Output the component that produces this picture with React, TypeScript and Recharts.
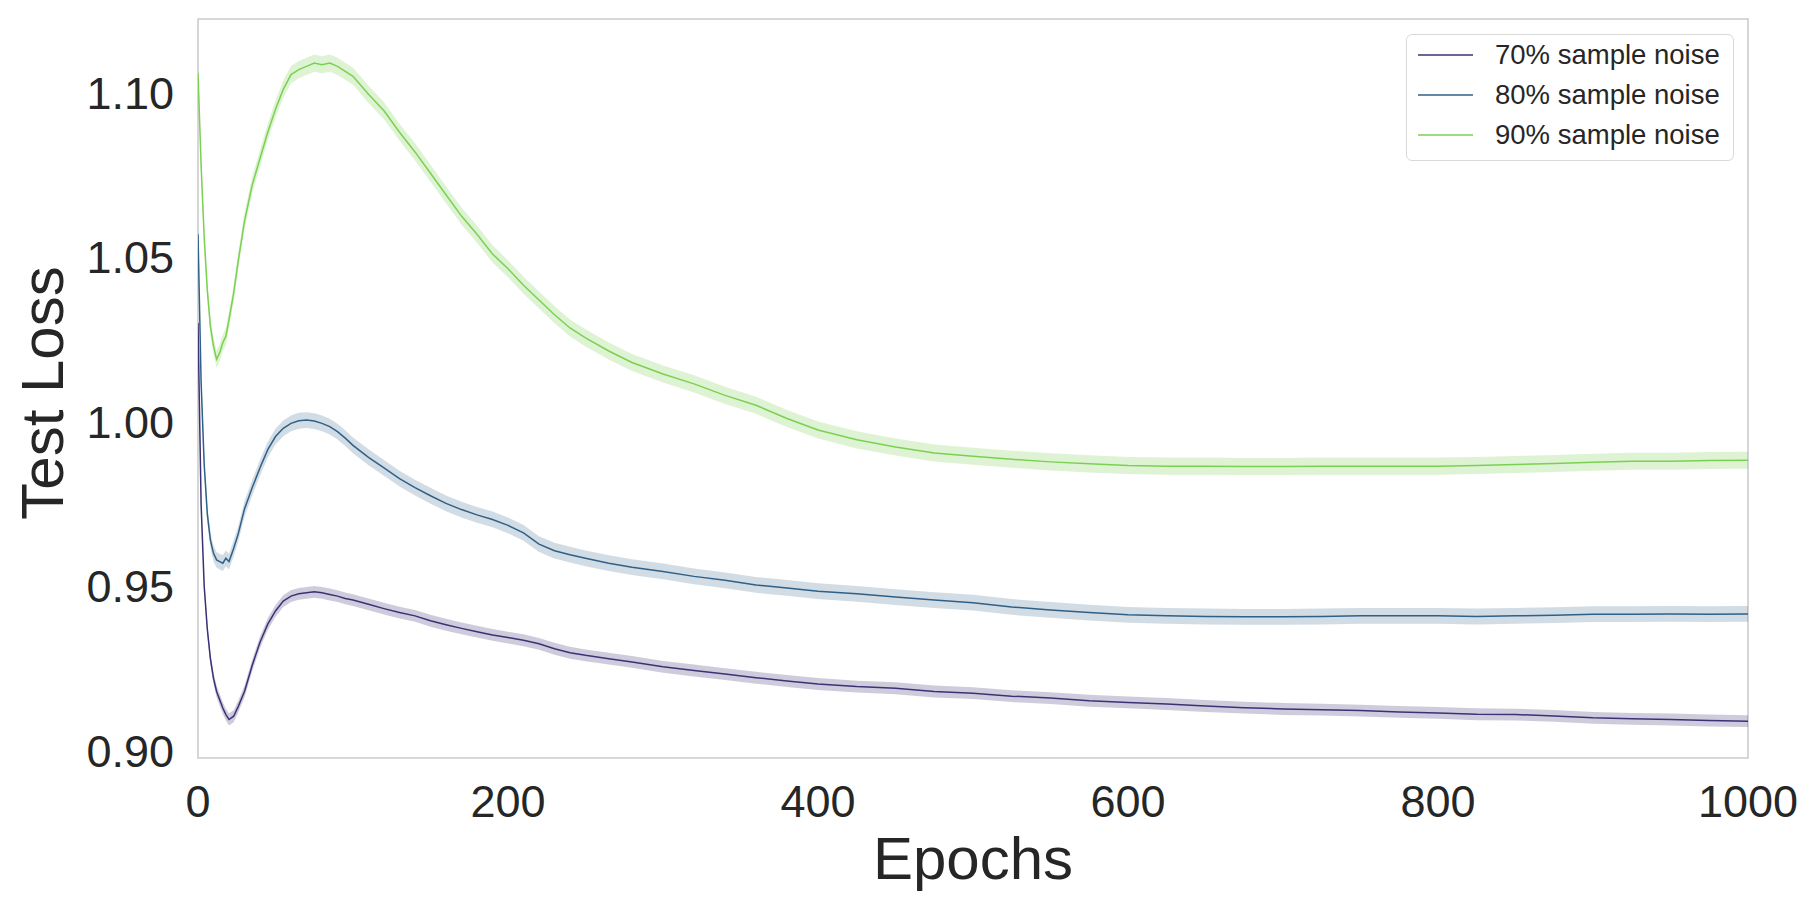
import React from "react";
import {
  ComposedChart,
  Line,
  Area,
  XAxis,
  YAxis,
  ReferenceArea,
  Label,
} from "recharts";

const epochs = [0, 2, 4, 6, 8, 10, 12, 14, 16, 18, 20, 23, 26, 30, 35, 40, 45, 50, 55, 60, 65, 70, 75, 80, 85, 90, 95, 100, 110, 120, 130, 140, 150, 160, 170, 180, 190, 200, 210, 220, 230, 240, 250, 265, 280, 300, 320, 340, 360, 380, 400, 425, 450, 475, 500, 525, 550, 575, 600, 625, 650, 675, 700, 725, 750, 775, 800, 825, 850, 875, 900, 925, 950, 975, 1000];

const noise70 = [1.03, 0.975, 0.95, 0.937, 0.928, 0.922, 0.918, 0.9155, 0.913, 0.911, 0.9095, 0.9105, 0.9135, 0.918, 0.926, 0.933, 0.9385, 0.9425, 0.9455, 0.947, 0.9477, 0.948, 0.9483, 0.948, 0.9475, 0.947, 0.9463, 0.9458, 0.9445, 0.9432, 0.942, 0.941, 0.9395, 0.9383, 0.9372, 0.9362, 0.9352, 0.9344, 0.9336, 0.9325, 0.931, 0.9298, 0.929, 0.928, 0.927, 0.9255, 0.9244, 0.9233, 0.9222, 0.9212, 0.9203, 0.9195, 0.919, 0.918, 0.9175, 0.9166, 0.916, 0.9152, 0.9147, 0.9142, 0.9136, 0.9131, 0.9127, 0.9125, 0.9122, 0.9118, 0.9115, 0.9111, 0.911, 0.9106, 0.91, 0.9097, 0.9095, 0.9092, 0.909];

const noise80 = [1.057, 1.012, 0.987, 0.972, 0.964, 0.96, 0.958, 0.9575, 0.957, 0.9585, 0.9575, 0.9615, 0.966, 0.9735, 0.98, 0.986, 0.9915, 0.9955, 0.998, 0.9995, 1.0003, 1.0005, 1.0002, 0.9995, 0.9985, 0.997, 0.995, 0.9928, 0.9892, 0.986, 0.9827, 0.98, 0.9775, 0.9752, 0.9733, 0.9717, 0.9703, 0.9685, 0.9662, 0.9628, 0.9608, 0.9596, 0.9585, 0.957, 0.9558, 0.9545, 0.953, 0.9518, 0.9504, 0.9495, 0.9485, 0.9477, 0.9467, 0.9458, 0.945, 0.9437, 0.9428, 0.942, 0.9413, 0.941, 0.9408, 0.9407, 0.9407, 0.9408, 0.941, 0.941, 0.941, 0.9408, 0.941, 0.9412, 0.9415, 0.9415, 0.9416, 0.9415, 0.9416];

const noise90 = [1.106, 1.078, 1.056, 1.04, 1.029, 1.023, 1.019, 1.021, 1.024, 1.026, 1.031, 1.039, 1.049, 1.061, 1.072, 1.08, 1.088, 1.095, 1.101, 1.1055, 1.107, 1.108, 1.109, 1.1085, 1.109, 1.108, 1.1065, 1.105, 1.0995, 1.0945, 1.088, 1.082, 1.0755, 1.069, 1.0625, 1.057, 1.051, 1.0465, 1.0415, 1.037, 1.0325, 1.0285, 1.0255, 1.0215, 1.018, 1.0145, 1.0115, 1.008, 1.005, 1.001, 0.9975, 0.9945, 0.9923, 0.9905, 0.9895, 0.9886, 0.9878, 0.9872, 0.9867, 0.9865, 0.9865, 0.9864, 0.9864, 0.9865, 0.9865, 0.9865, 0.9865, 0.9867, 0.987, 0.9873, 0.9877, 0.988, 0.988, 0.9882, 0.9883];

const bandHalfWidth70 = 0.0018;
const bandHalfWidth80 = 0.0024;
const bandHalfWidth90 = 0.0026;

const seriesNames = ["70% sample noise", "80% sample noise", "90% sample noise"];
const seriesColors = ["#3b3275", "#2f6088", "#7ad151"];

const xTicks = [0, 200, 400, 600, 800, 1000];
const yTicks = [0.9, 0.95, 1.0, 1.05, 1.1];
const yDomain = [0.8978, 1.1224];

const data = epochs.map((e, i) => ({
  epoch: e,
  s70: noise70[i],
  s80: noise80[i],
  s90: noise90[i],
  b70: [noise70[i] - bandHalfWidth70, noise70[i] + bandHalfWidth70],
  b80: [noise80[i] - bandHalfWidth80, noise80[i] + bandHalfWidth80],
  b90: [noise90[i] - bandHalfWidth90, noise90[i] + bandHalfWidth90],
}));

const FONT = "'Liberation Sans', Arial, Helvetica, sans-serif";
const TEXT = "#262626";

const LegendBox = () => (
  <div
    style={{
      position: "absolute",
      left: 1406,
      top: 34,
      width: 328,
      height: 127,
      background: "#fff",
      border: "1.5px solid #d9d9d9",
      borderRadius: 6,
      boxSizing: "border-box",
      fontFamily: FONT,
      color: TEXT,
    }}
  >
    {seriesNames.map((n, i) => (
      <div
        key={n}
        style={{
          position: "absolute",
          left: 0,
          top: 20 + i * 40 - 16,
          height: 32,
          display: "flex",
          alignItems: "center",
        }}
      >
        <svg width={76} height={32} style={{ display: "block" }}>
          <line x1={11} x2={66} y1={16} y2={16} stroke={seriesColors[i]} strokeWidth={1.6} />
        </svg>
        <span style={{ fontSize: 27.5, marginLeft: 12, whiteSpace: "nowrap", lineHeight: "32px" }}>{n}</span>
      </div>
    ))}
  </div>
);

export default function App() {
  return (
    <div style={{ position: "absolute", left: 0, top: 0, width: 1820, height: 907, background: "#fff" }}>
      <ComposedChart
        width={1820}
        height={907}
        data={data}
        margin={{ top: 19, right: 72, bottom: 0, left: 0 }}
      >
        <XAxis
          dataKey="epoch"
          type="number"
          domain={[0, 1000]}
          ticks={xTicks}
          height={149}
          axisLine={false}
          tickLine={false}
          tickSize={0}
          tickMargin={27}
          tick={{ fontSize: 45, fill: TEXT, fontFamily: FONT }}
          allowDataOverflow
        >
          <Label
            content={() => (
              <text x={973} y={879} textAnchor="middle" fontSize={60} fill={TEXT} fontFamily={FONT}>
                Epochs
              </text>
            )}
          />
        </XAxis>
        <YAxis
          type="number"
          domain={yDomain}
          ticks={yTicks}
          width={198}
          axisLine={false}
          tickLine={false}
          tickSize={0}
          tickMargin={24}
          tickFormatter={(v: number) => v.toFixed(2)}
          tick={{ fontSize: 45, fill: TEXT, fontFamily: FONT }}
          allowDataOverflow
        >
          <Label
            content={() => (
              <text
                x={63}
                y={393}
                textAnchor="middle"
                fontSize={60}
                fill={TEXT}
                fontFamily={FONT}
                transform="rotate(-90 63 393)"
              >
                Test Loss
              </text>
            )}
          />
        </YAxis>
        <ReferenceArea
          x1={0}
          x2={1000}
          y1={yDomain[0]}
          y2={yDomain[1]}
          fill="none"
          stroke="#cccccc"
          strokeWidth={1.6}
          ifOverflow="extendDomain"
        />
        <Area type="linear" dataKey="b70" stroke="none" fill={seriesColors[0]} fillOpacity={0.25} isAnimationActive={false} />
        <Area type="linear" dataKey="b80" stroke="none" fill={seriesColors[1]} fillOpacity={0.22} isAnimationActive={false} />
        <Area type="linear" dataKey="b90" stroke="none" fill={seriesColors[2]} fillOpacity={0.25} isAnimationActive={false} />
        <Line type="linear" dataKey="s70" name={seriesNames[0]} stroke={seriesColors[0]} strokeWidth={1.5} dot={false} isAnimationActive={false} />
        <Line type="linear" dataKey="s80" name={seriesNames[1]} stroke={seriesColors[1]} strokeWidth={1.5} dot={false} isAnimationActive={false} />
        <Line type="linear" dataKey="s90" name={seriesNames[2]} stroke={seriesColors[2]} strokeWidth={1.5} dot={false} isAnimationActive={false} />
      </ComposedChart>
      <LegendBox />
    </div>
  );
}
